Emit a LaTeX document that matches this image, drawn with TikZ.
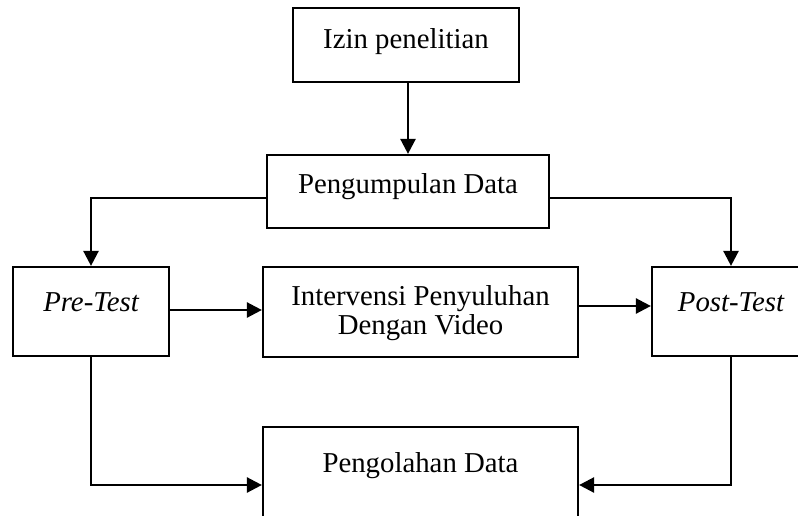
\documentclass[tikz,border=0pt]{standalone}
\usepackage{fontspec}
\setmainfont{Liberation Serif}
\usetikzlibrary{arrows.meta}
\begin{document}
\begin{tikzpicture}[x=1pt,y=-1pt,
  box/.style={draw=black,line width=2.2pt,rectangle,inner sep=0pt},
  txt/.style={inner sep=0pt,align=center,font=\fontsize{28.8}{29.5}\selectfont},
  conn/.style={line width=2.5pt,-{Triangle[width=15pt,length=15pt]}}]
\useasboundingbox (0,0) rectangle (798,515);
\clip (0,0) rectangle (798,515);
% boxes
\node[box,minimum width=226,minimum height=74] (izin) at (406,45) {};
\node[box,minimum width=282,minimum height=73] (kumpul) at (408,191.5) {};
\node[box,minimum width=156,minimum height=89] (pre) at (91,311.5) {};
\node[box,minimum width=315,minimum height=90] (interv) at (420.5,312) {};
\node[box,minimum width=158,minimum height=89] (post) at (731,311.5) {};
\node[box,minimum width=315,minimum height=90] (olah) at (420.5,472) {};
% texts
\node[txt] (izint) at ([yshift=3] izin.center) {Izin penelitian};
\node[txt] (kumpult) at ([yshift=5] kumpul.center) {Pengumpulan Data};
\node[txt] (pret) at ([yshift=9] pre.center) {\itshape Pre-Test};
\node[txt] (intervt) at ([yshift=-1] interv.center) {Intervensi Penyuluhan\\Dengan Video};
\node[txt] (postt) at ([yshift=9] post.center) {\itshape Post-Test};
\node[txt] (olaht) at ([yshift=6] olah.center) {Pengolahan Data};
% connectors
\draw[conn] (izin.south -| 408,0) -- (kumpul.north -| 408,0);
\draw[conn] (kumpul.west |- 0,198) -| (pre.north);
\draw[conn] (kumpul.east |- 0,198) -| (post.north);
\draw[conn] (pre.east |- 0,310) -- (interv.west |- 0,310);
\draw[conn] (interv.east |- 0,306) -- (post.west |- 0,306);
\draw[conn] (pre.south) |- (olah.west |- 0,485);
\draw[conn] (post.south) |- (olah.east |- 0,485);
\end{tikzpicture}
\end{document}
